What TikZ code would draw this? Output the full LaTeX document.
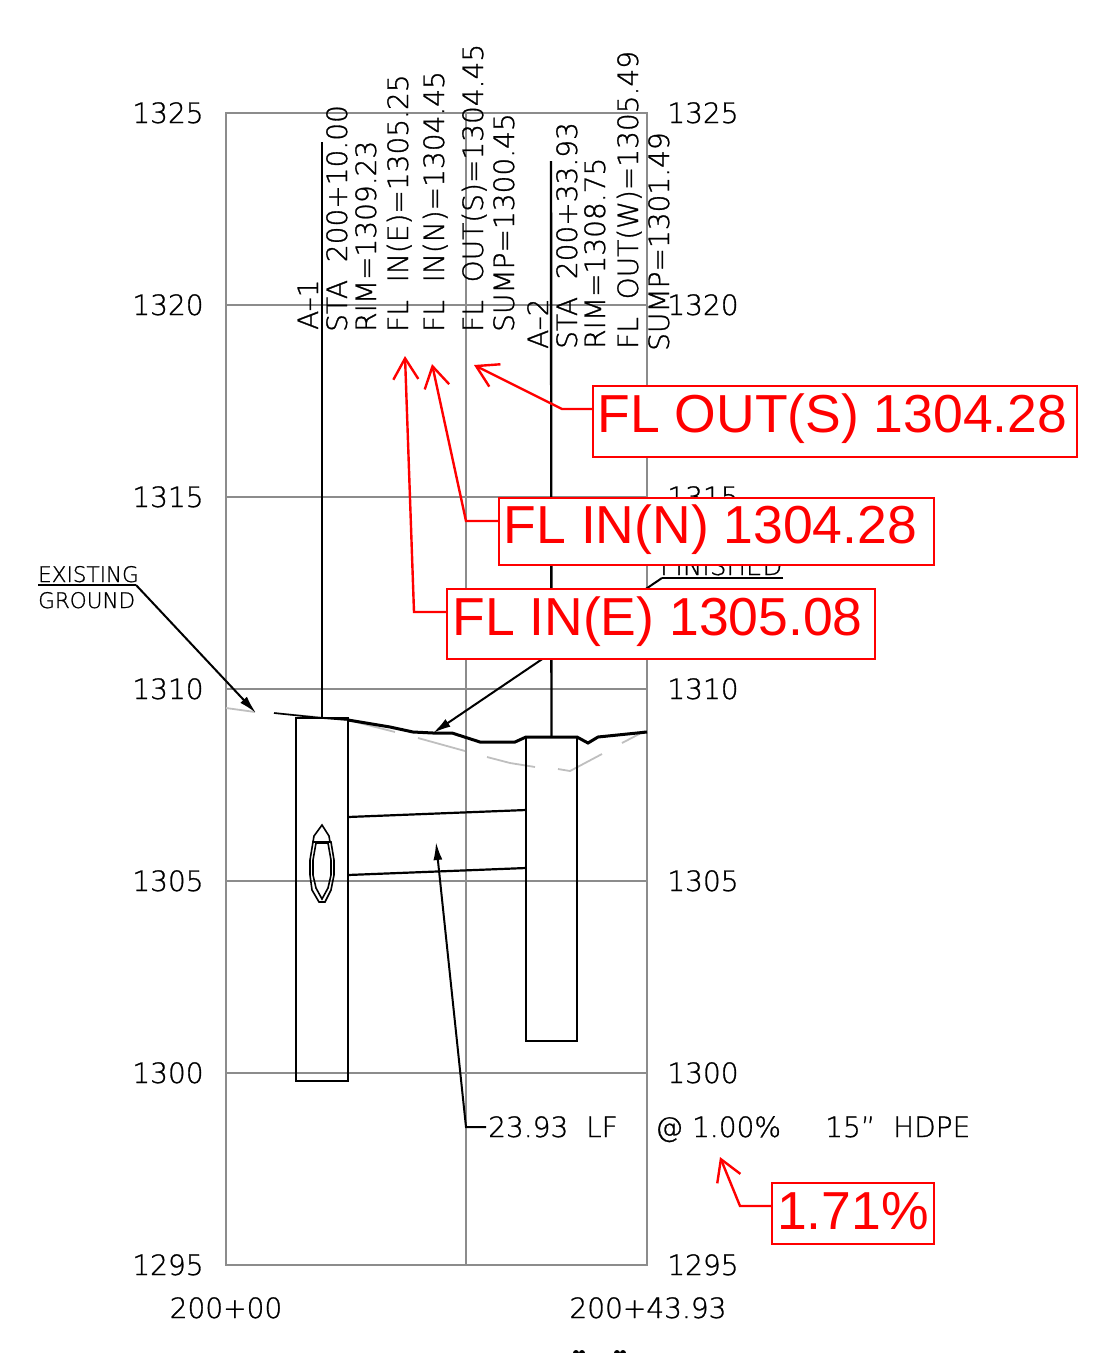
\documentclass[tikz,border=0pt]{standalone}
\usepackage{fontspec}
\setmainfont[FakeBold=1]{DejaVu Sans ExtraLight}
\newfontfamily\redfont{Liberation Sans}
\usetikzlibrary{arrows.meta}
\definecolor{gridgray}{gray}{.55}
\newcommand{\redtxt}[3]{\raisebox{-#2pt}[0pt][0pt]{#3\hspace*{#1pt}}}
\tikzset{
  cad/.style={inner sep=0pt,font=\fontsize{28}{28}\selectfont,anchor=base},
  cadup/.style={inner sep=0pt,font=\fontsize{28}{28}\selectfont,anchor=base west,rotate=90},
  cadsmall/.style={inner sep=0pt,font=\fontsize{21.5}{22}\selectfont,anchor=base west},
  redbox/.style={draw=red,line width=2.4pt,fill=white,text=red,inner sep=0pt,font=\redfont\fontsize{53.5}{54}\selectfont},
  redlead/.style={draw=red,line width=2.4pt,-{Straight Barb[length=21pt,width=25pt]}},
  blacklead/.style={line width=2pt,-{Latex[length=18pt,width=9pt]}},
}
\begin{document}
\begin{tikzpicture}[x=1pt,y=-1pt]
\useasboundingbox (0,0) rectangle (1112,1353);

\def\groundA{(274,713)--(322,718)--(348,720)}
\def\groundB{(348,720)--(390,727)--(413,732)--(433,733)--(452,733)--(480,742)--(515,742)--(526,737)--(577,737)--(588,743)--(598,737)--(647,732)}

% grid
\draw[gridgray,line width=2pt] (226,113) rectangle (647,1265);
\foreach \y in {305,497,689,881,1073} \draw[gridgray,line width=2pt] (226,\y)--(647,\y);
\draw[gridgray,line width=2pt] (466,113)--(466,1265);

% elevations
\foreach \y/\e in {123/1325,315/1320,507/1315,699/1310,891/1305,1083/1300,1275/1295}{
  \node[cad] (left\e) at (168,\y) {\e};
  \node[cad] (right\e) at (703,\y) {\e};
}
\node[cad] (staA) at (226,1318) {200+00};
\node[cad] (staB) at (648,1318) {200+43.93};

% existing ground
\draw[gray!50,line width=1.8pt] (226,708)--(255,712) (274,713)--(348,720)--(395,732) (418,738)--(465,751) (487,757)--(510,763)--(535,767) (558,769)--(570,771)--(602,754) (622,743)--(645,731);
\draw[line width=1.6pt] \groundA;
\draw[line width=3pt] \groundB;

% structures
\coordinate (topA) at (322,142);
\coordinate (topB) at (551,161);
\node[draw,line width=2.2pt,minimum width=52pt,minimum height=363pt,inner sep=0pt] (boxA) at (322,899.5) {};
\node[draw,line width=2.2pt,minimum width=51pt,minimum height=304pt,inner sep=0pt] (boxB) at (551.5,889) {};
\draw[line width=2.4pt] (topA)--(boxA.north);
\draw[line width=2.4pt] (topB)--(boxB.north);
\draw[line width=2.2pt] (348,817)--(526,810) (348,875)--(526,868);
\draw[line width=1.6pt] (313,842)--(314,836)--(322,825)--(329,836)--(330,842)--cycle;
\draw[line width=1.6pt] (313,842)--(331,842)--(334,860)--(334,875)--(331,890)--(325,902)--(319,902)--(312,890)--(310,875)--(310,860)--cycle;
\draw[line width=1.6pt] (316,843)--(328,843)--(331,860)--(331,875)--(328,888)--(322,899)--(316,888)--(313,875)--(313,860)--cycle;

% structure labels
\node[cadup] (nameA) at (318,330) {A--1};
\node[cadup] (staAa) at (347,332) {STA\ \ 200+10.00};
\node[cadup] (rimA) at (376,332) {RIM=1309.23};
\node[cadup] (inE) at (408,332) {FL\ \ IN(E)=1305.25};
\node[cadup] (inN) at (444,332) {FL\ \ IN(N)=1304.45};
\node[cadup] (outS) at (483,332) {FL\ \ OUT(S)=1304.45};
\node[cadup] (sumpA) at (514,332) {SUMP=1300.45};
\node[cadup] (nameB) at (548,349) {A--2};
\node[cadup] (staBb) at (577,349) {STA\ \ 200+33.93};
\node[cadup] (rimB) at (605,349) {RIM=1308.75};
\node[cadup] (outW) at (638,349) {FL\ \ OUT(W)=1305.49};
\node[cadup] (sumpB) at (669,351) {SUMP=1301.49};

% ground notes
\node[cadsmall] (exist) at (38,582) {EXISTING};
\node[cadsmall] (exist2) at (38,608) {GROUND};
\coordinate (existL) at (38,585);
\coordinate (existR) at (136,585);
\coordinate (existTip) at (256,713);
\draw[line width=2pt] (existL)--(existR);
\draw[blacklead] (existR)--(existTip);
\node[cadsmall,font=\fontsize{26}{26}\selectfont] (fin) at (660,575) {FINISHED};
\node[cadsmall,font=\fontsize{23}{23}\selectfont] (fin2) at (664,606) {GROUND};
\coordinate (finR) at (783,578);
\coordinate (finL) at (662,578);
\coordinate (finTip) at (433,733);
\draw[line width=2pt] (finR)--(finL);
\draw[blacklead] (finL)--(finTip);

% pipe note
\node[cad,anchor=base west] (len) at (488,1137) {23.93\ \ LF};
\node[cad,anchor=base west] (slope) at (655,1137) {@ 1.00\%};
\node[cad,anchor=base west] (pipe) at (825,1137) {15”\ \ HDPE};
\coordinate (lenTip) at (436,842);
\draw[blacklead] (len.base west)++(-2,-10) -- (466,1127) -- (lenTip);

% marks at the cut edge
\foreach \x in {576,582,617,623} \fill (\x,1353) circle (3);

% corrections
\node[redbox,minimum width=484pt,minimum height=71pt] (fixS) at (835,421.5) {\redtxt{5}{10.5}{FL OUT(S) 1304.28}};
\node[redbox,minimum width=435pt,minimum height=67pt] (fixN) at (716.5,531.5) {\redtxt{12}{11.5}{FL IN(N) 1304.28}};
\node[redbox,minimum width=428pt,minimum height=70pt] (fixE) at (661,624) {\redtxt{7}{11}{FL IN(E) 1305.08}};
\node[redbox,minimum width=162pt,minimum height=61pt] (fixP) at (853,1213.5) {\redtxt{0}{15.5}{1.71\%}};
\coordinate (tipS) at (474,365);
\coordinate (tipN) at (432,364);
\coordinate (tipE) at (405,356);
\coordinate (tipP) at (720,1157);
\draw[redlead] (fixS.west|-0,409)--(562,409)--(tipS);
\draw[redlead] (fixN.west|-0,521)--(466,521)--(tipN);
\draw[redlead] (fixE.west|-0,612)--(414,612)--(tipE);
\draw[redlead] (fixP.west|-0,1206)--(740,1206)--(tipP);
\end{tikzpicture}
\end{document}
